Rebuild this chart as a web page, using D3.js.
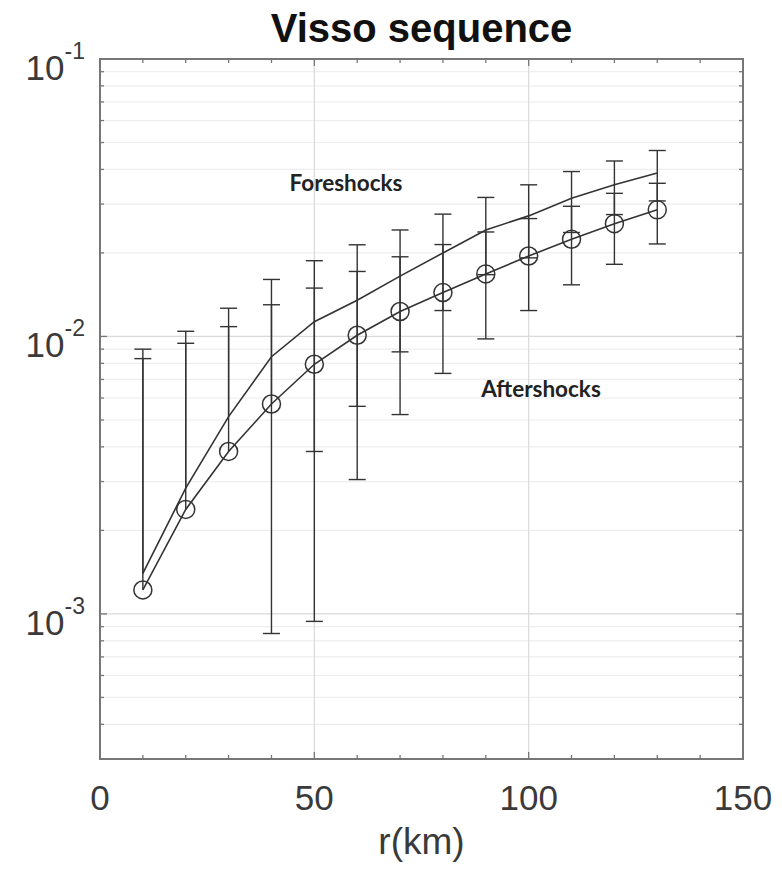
<!DOCTYPE html>
<html>
<head>
<meta charset="utf-8">
<script src="https://cdn.jsdelivr.net/npm/d3@7"></script>
<style>
  html, body { margin: 0; padding: 0; background: #fff; }
  svg { display: block; }
</style>
</head>
<body>
<svg id="chart" width="782" height="875"></svg>
<script>
// ---- data ----
const distances = [10, 20, 30, 40, 50, 60, 70, 80, 90, 100, 110, 120, 130];
const foreshockRate = [1.40e-3, 2.84e-3, 5.14e-3, 8.45e-3, 1.13e-2, 1.35e-2, 1.65e-2, 2.00e-2, 2.42e-2, 2.72e-2, 3.15e-2, 3.52e-2, 3.88e-2];
const foreshockErr  = [7.6e-3, 7.6e-3, 7.5e-3, 7.6e-3, 7.45e-3, 7.9e-3, 7.7e-3, 7.6e-3, 7.5e-3, 8.0e-3, 7.8e-3, 7.7e-3, 8.0e-3];
const aftershockRate = [1.22e-3, 2.38e-3, 3.85e-3, 5.71e-3, 7.94e-3, 1.01e-2, 1.23e-2, 1.44e-2, 1.68e-2, 1.95e-2, 2.24e-2, 2.55e-2, 2.86e-2];
const aftershockErr  = [7.1e-3, 7.07e-3, 7.0e-3, 7.3e-3, 7.0e-3, 7.05e-3, 7.07e-3, 7.04e-3, 7.0e-3, 7.1e-3, 7.05e-3, 7.3e-3, 7.05e-3];
const xTickValues = [0, 50, 100, 150];
const xMinorTickValues = d3.range(0, 151, 10);
const yTickExponents = [-1, -2, -3];
const titleText = "Visso sequence";
const xLabelText = "r(km)";
const seriesLabels = ["Foreshocks", "Aftershocks"];

// ---- layout ----
const L = 100, R = 743, T = 59, B = 759;
const svg = d3.select("#chart");
const x = d3.scaleLinear().domain([0, 150]).range([L, R]);
const y = d3.scaleLog().domain([3e-4, 1e-1]).range([B, T]);

const ink = "#333";
const axisColor = "#777";

// minor y ticks (log)
const yMinor = [];
[-4, -3, -2].forEach(e => {
  for (let m = 1; m <= 9; m++) {
    const v = m * Math.pow(10, e);
    if (v >= 3e-4 - 1e-12 && v <= 1e-1 + 1e-12) yMinor.push(v);
  }
});
const yMajor = yTickExponents.map(e => Math.pow(10, e));

// ---- grid ----
const grid = svg.append("g");
grid.selectAll("line.hmin").data(yMinor).join("line")
  .attr("x1", L).attr("x2", R)
  .attr("y1", d => y(d)).attr("y2", d => y(d))
  .attr("stroke", d => yMajor.some(m => Math.abs(m - d) < 1e-12) ? "#dadada" : "#eeeeee")
  .attr("stroke-width", 1.2);
grid.selectAll("line.v").data(xTickValues.filter(v => v > 0 && v < 150)).join("line")
  .attr("x1", d => x(d)).attr("x2", d => x(d))
  .attr("y1", T).attr("y2", B)
  .attr("stroke", "#dadada").attr("stroke-width", 1.2);

// ---- box ----
svg.append("rect").attr("x", L).attr("y", T).attr("width", R - L).attr("height", B - T)
  .attr("fill", "none").attr("stroke", axisColor).attr("stroke-width", 2);

// ---- ticks ----
const ticks = svg.append("g").attr("stroke", axisColor).attr("stroke-width", 1.3);
xMinorTickValues.forEach(v => {
  const len = xTickValues.includes(v) ? 7 : 4;
  ticks.append("line").attr("x1", x(v)).attr("x2", x(v)).attr("y1", B).attr("y2", B - len);
  ticks.append("line").attr("x1", x(v)).attr("x2", x(v)).attr("y1", T).attr("y2", T + len);
});
yMinor.forEach(v => {
  const len = yMajor.some(m => Math.abs(m - v) < 1e-12) ? 7 : 4;
  ticks.append("line").attr("x1", L).attr("x2", L + len).attr("y1", y(v)).attr("y2", y(v));
  ticks.append("line").attr("x1", R).attr("x2", R - len).attr("y1", y(v)).attr("y2", y(v));
});

// ---- tick labels ----
const font = "'Liberation Sans', Arial, Helvetica, sans-serif";
svg.append("g").selectAll("text").data(xTickValues).join("text")
  .attr("x", d => x(d)).attr("y", 810)
  .attr("text-anchor", "middle")
  .attr("font-family", font).attr("font-size", 35).attr("fill", "#3a3a3a")
  .text(d => d);

yTickExponents.forEach(e => {
  const t = svg.append("text")
    .attr("x", 85).attr("y", y(Math.pow(10, e)) + 21)
    .attr("text-anchor", "end")
    .attr("font-family", font).attr("fill", "#3a3a3a");
  t.append("tspan").attr("font-size", 35).text("10");
  t.append("tspan").attr("font-size", 23).attr("dy", -21).text(String(e));
});

// ---- title & axis label ----
svg.append("text").attr("x", (L + R) / 2).attr("y", 42)
  .attr("text-anchor", "middle").attr("font-family", font)
  .attr("font-weight", "bold").attr("font-size", 40).attr("fill", "#111")
  .text(titleText);
svg.append("text").attr("x", (L + R) / 2).attr("y", 854)
  .attr("text-anchor", "middle").attr("font-family", font)
  .attr("font-size", 37).attr("fill", "#3a3a3a")
  .text(xLabelText);

// ---- error bars ----
function drawErrorBars(vals, errs) {
  const g = svg.append("g").attr("stroke", ink).attr("stroke-width", 1.4).attr("fill", "none");
  const cw = 8.5;
  distances.forEach((d, i) => {
    const v = vals[i], e = errs[i];
    const hi = v + e, lo = v - e;
    const xp = x(d);
    const yLo = lo > 0 ? y(lo) : y(v);
    g.append("line").attr("x1", xp).attr("x2", xp).attr("y1", y(hi)).attr("y2", yLo);
    g.append("line").attr("x1", xp - cw).attr("x2", xp + cw).attr("y1", y(hi)).attr("y2", y(hi));
    if (lo > 0) {
      g.append("line").attr("x1", xp - cw).attr("x2", xp + cw).attr("y1", y(lo)).attr("y2", y(lo));
    }
  });
}
drawErrorBars(foreshockRate, foreshockErr);
drawErrorBars(aftershockRate, aftershockErr);

// ---- lines ----
const line = d3.line().x((d, i) => x(distances[i])).y(d => y(d));
svg.append("path").datum(foreshockRate).attr("d", line)
  .attr("fill", "none").attr("stroke", ink).attr("stroke-width", 1.6);
svg.append("path").datum(aftershockRate).attr("d", line)
  .attr("fill", "none").attr("stroke", ink).attr("stroke-width", 1.6);

// circles
svg.append("g").selectAll("circle").data(aftershockRate).join("circle")
  .attr("cx", (d, i) => x(distances[i])).attr("cy", d => y(d))
  .attr("r", 9).attr("fill", "none").attr("stroke", ink).attr("stroke-width", 1.5);

// ---- annotations ----
const annFont = "Lato, 'Open Sans', sans-serif";
svg.append("text").attr("x", 346).attr("y", 191)
  .attr("text-anchor", "middle").attr("font-family", annFont)
  .attr("font-weight", "bold").attr("font-size", 22.5).attr("fill", "#222")
  .text(seriesLabels[0]);
svg.append("text").attr("x", 541).attr("y", 397)
  .attr("text-anchor", "middle").attr("font-family", annFont)
  .attr("font-weight", "bold").attr("font-size", 22.5).attr("fill", "#222")
  .text(seriesLabels[1]);
</script>
</body>
</html>
